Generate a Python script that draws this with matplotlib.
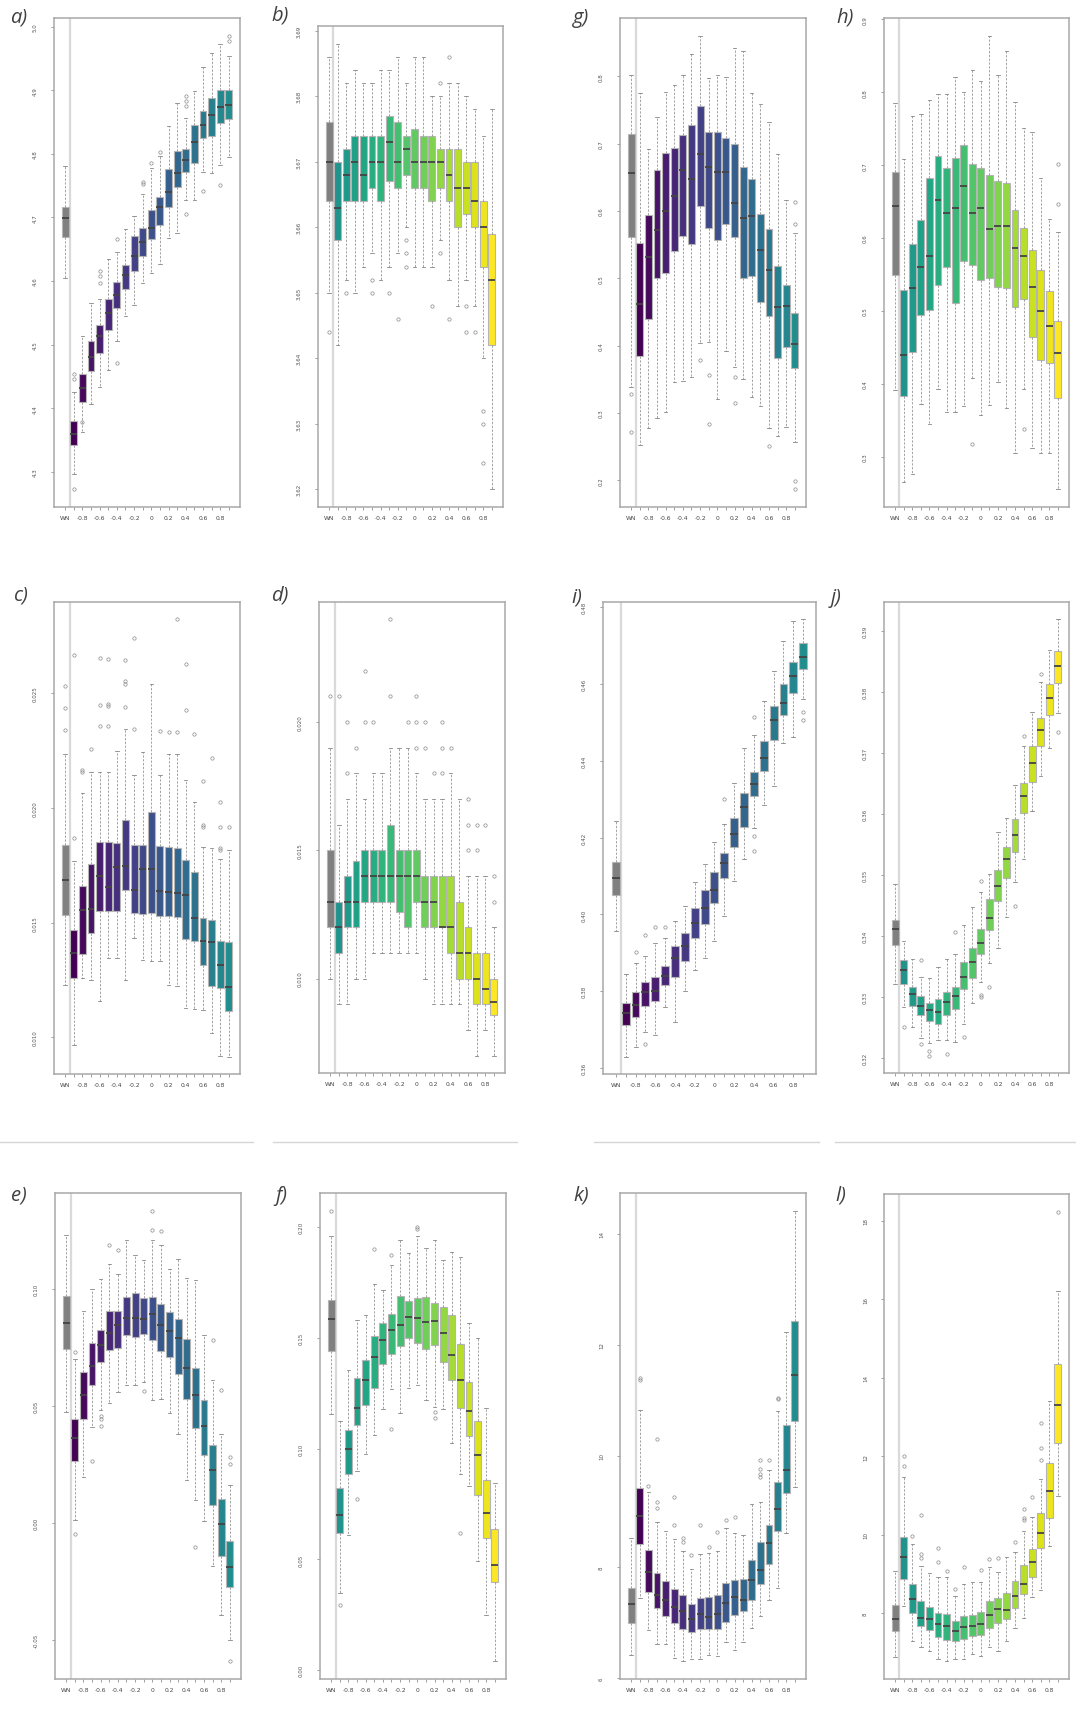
import numpy as np
import matplotlib
matplotlib.use("Agg")
import matplotlib.pyplot as plt
from matplotlib.lines import Line2D

# groups: WN, then correlation -0.9 ... 0.9
x_labels = ["WN", "", "-0.8", "", "-0.6", "", "-0.4", "", "-0.2", "", "0",
            "", "0.2", "", "0.4", "", "0.6", "", "0.8", ""]

# each row: (lower whisker, q1, median, q3, upper whisker)
a_stats = [(4.604, 4.669, 4.699, 4.717, 4.781), (4.297, 4.342, 4.359, 4.380, 4.425),
           (4.362, 4.409, 4.432, 4.453, 4.513), (4.406, 4.459, 4.481, 4.505, 4.565),
           (4.434, 4.487, 4.513, 4.530, 4.572), (4.460, 4.523, 4.549, 4.571, 4.635),
           (4.506, 4.557, 4.578, 4.599, 4.646), (4.545, 4.587, 4.609, 4.625, 4.681),
           (4.562, 4.616, 4.639, 4.670, 4.702), (4.596, 4.640, 4.662, 4.683, 4.737),
           (4.612, 4.666, 4.684, 4.711, 4.777), (4.626, 4.688, 4.716, 4.732, 4.797),
           (4.667, 4.717, 4.740, 4.776, 4.843), (4.675, 4.747, 4.769, 4.805, 4.880),
           (4.727, 4.772, 4.790, 4.808, 4.857), (4.727, 4.786, 4.818, 4.845, 4.899),
           (4.772, 4.824, 4.846, 4.868, 4.936), (4.769, 4.828, 4.861, 4.887, 4.959),
           (4.782, 4.848, 4.874, 4.900, 4.973), (4.795, 4.854, 4.876, 4.900, 4.954)]
a_out = [[], [4.453, 4.446, 4.273], [4.378], [], [4.616, 4.608, 4.597], [], [4.666, 4.471], [], [],
         [4.755, 4.752], [4.785], [4.803], [], [], [4.891, 4.883, 4.875, 4.705], [], [4.742], [],
         [4.751], [4.985, 4.977]]

b_stats = [(3.650, 3.664, 3.670, 3.676, 3.686), (3.642, 3.658, 3.663, 3.670, 3.688),
           (3.652, 3.664, 3.668, 3.672, 3.682), (3.650, 3.664, 3.670, 3.674, 3.684),
           (3.654, 3.664, 3.668, 3.674, 3.682), (3.656, 3.666, 3.670, 3.674, 3.682),
           (3.652, 3.664, 3.670, 3.674, 3.684), (3.654, 3.667, 3.673, 3.677, 3.684),
           (3.656, 3.666, 3.670, 3.676, 3.686), (3.660, 3.668, 3.672, 3.674, 3.682),
           (3.654, 3.666, 3.670, 3.675, 3.686), (3.654, 3.666, 3.670, 3.674, 3.686),
           (3.654, 3.664, 3.670, 3.674, 3.680), (3.658, 3.666, 3.670, 3.672, 3.680),
           (3.652, 3.664, 3.668, 3.672, 3.682), (3.648, 3.660, 3.666, 3.672, 3.682),
           (3.652, 3.662, 3.666, 3.670, 3.680), (3.648, 3.660, 3.664, 3.670, 3.678),
           (3.640, 3.654, 3.660, 3.664, 3.674), (3.620, 3.642, 3.652, 3.659, 3.678)]
b_out = [[3.644], [], [3.650], [], [], [3.652, 3.650], [], [3.650], [3.646], [3.658, 3.656, 3.654],
         [], [], [3.648], [3.682, 3.656], [3.686, 3.646], [], [3.648, 3.644], [3.644],
         [3.632, 3.630, 3.624], []]

c_stats = [(0.01229, 0.01533, 0.01687, 0.01836, 0.02236), (0.00968, 0.01261, 0.01367, 0.01469, 0.01767),
           (0.01261, 0.01363, 0.01553, 0.01658, 0.02064), (0.01251, 0.01457, 0.01559, 0.01755, 0.02156),
           (0.01160, 0.01552, 0.01701, 0.01849, 0.02154), (0.01345, 0.01552, 0.01655, 0.01851, 0.02154),
           (0.01345, 0.01549, 0.01742, 0.01847, 0.02246), (0.01251, 0.01640, 0.01748, 0.01945, 0.02345),
           (0.01433, 0.01544, 0.01643, 0.01839, 0.02141), (0.01338, 0.01539, 0.01733, 0.01839, 0.02242),
           (0.01335, 0.01544, 0.01735, 0.01982, 0.02539), (0.01331, 0.01531, 0.01639, 0.01832, 0.02141),
           (0.01229, 0.01527, 0.01632, 0.01829, 0.02234), (0.01226, 0.01523, 0.01629, 0.01825, 0.02236),
           (0.01128, 0.01428, 0.01621, 0.01774, 0.02122), (0.01123, 0.01421, 0.01520, 0.01720, 0.02025),
           (0.01118, 0.01316, 0.01418, 0.01520, 0.01828), (0.01019, 0.01222, 0.01414, 0.01512, 0.01825),
           (0.00921, 0.01215, 0.01314, 0.01418, 0.01777), (0.00917, 0.01116, 0.01219, 0.01414, 0.01817)]
c_out = [[0.02532, 0.02435, 0.02337], [0.02667, 0.01868], [0.02166, 0.02154], [0.02257],
         [0.02652, 0.02449, 0.02355], [0.02648, 0.02452, 0.02445, 0.02355], [],
         [0.02642, 0.02551, 0.02541, 0.02439], [0.02740, 0.02343], [], [], [0.02333], [0.02330],
         [0.02820, 0.02329], [0.02626, 0.02427], [0.02321], [0.02118, 0.01923, 0.01916], [0.02217],
         [0.02024, 0.01916, 0.01825, 0.01815], [0.01916]]

d_stats = [(0.010, 0.012, 0.013, 0.015, 0.019), (0.009, 0.011, 0.012, 0.013, 0.016),
           (0.009, 0.012, 0.013, 0.014, 0.017), (0.010, 0.012, 0.013, 0.0146, 0.018),
           (0.010, 0.013, 0.014, 0.015, 0.017), (0.011, 0.013, 0.014, 0.015, 0.018),
           (0.011, 0.013, 0.014, 0.015, 0.018), (0.011, 0.013, 0.014, 0.016, 0.019),
           (0.011, 0.0126, 0.014, 0.015, 0.019), (0.011, 0.012, 0.014, 0.015, 0.019),
           (0.011, 0.013, 0.014, 0.015, 0.018), (0.010, 0.012, 0.013, 0.014, 0.017),
           (0.009, 0.012, 0.013, 0.014, 0.017), (0.009, 0.012, 0.012, 0.014, 0.017),
           (0.009, 0.011, 0.012, 0.014, 0.018), (0.009, 0.010, 0.011, 0.013, 0.017),
           (0.008, 0.010, 0.011, 0.012, 0.014), (0.007, 0.009, 0.010, 0.011, 0.014),
           (0.008, 0.009, 0.0096, 0.011, 0.014), (0.007, 0.0086, 0.0091, 0.010, 0.012)]
d_out = [[0.021], [0.021], [0.020, 0.018], [0.019], [0.022, 0.020], [0.020], [], [0.024, 0.021], [],
         [0.020], [0.021, 0.020, 0.019], [0.020, 0.019], [0.018], [0.020, 0.019, 0.018], [0.019], [],
         [0.017, 0.016, 0.015], [0.016, 0.015], [0.016], [0.014, 0.013]]

e_stats = [(0.0475, 0.0743, 0.0856, 0.0971, 0.1231), (0.0011, 0.0265, 0.0365, 0.0446, 0.0703),
           (0.0196, 0.0446, 0.0549, 0.0646, 0.0906), (0.0411, 0.0589, 0.0672, 0.0772, 0.1003),
           (0.0482, 0.0689, 0.0760, 0.0827, 0.1043), (0.0515, 0.0742, 0.0813, 0.0906, 0.1110),
           (0.0560, 0.0750, 0.0846, 0.0906, 0.1067), (0.0589, 0.0806, 0.0879, 0.0967, 0.1213),
           (0.0589, 0.0796, 0.0879, 0.0986, 0.1148), (0.0603, 0.0810, 0.0874, 0.0963, 0.1124),
           (0.0525, 0.0783, 0.0896, 0.0967, 0.1210), (0.0532, 0.0736, 0.0849, 0.0939, 0.1188),
           (0.0470, 0.0710, 0.0822, 0.0903, 0.1088), (0.0382, 0.0636, 0.0793, 0.0874, 0.1131),
           (0.0185, 0.0532, 0.0665, 0.0786, 0.1049), (0.0097, 0.0406, 0.0546, 0.0665, 0.1039),
           (0.0008, 0.0292, 0.0413, 0.0525, 0.0806), (-0.0186, 0.0078, 0.0225, 0.0332, 0.0610),
           (-0.0396, -0.0142, -0.0006, 0.0101, 0.0382), (-0.0500, -0.0275, -0.0189, -0.0078, 0.0164)]
e_out = [[], [0.0732, -0.0049], [], [0.0265], [0.0458, 0.0446, 0.0415], [0.1191], [0.1170], [], [],
         [0.0565], [0.1335, 0.1255], [0.1248], [], [], [], [-0.0103], [], [0.0784], [0.0570],
         [0.0282, 0.0254, -0.0591]]

f_stats = [(0.1158, 0.1439, 0.1586, 0.1669, 0.1959), (0.0349, 0.0621, 0.0699, 0.0823, 0.1123),
           (0.0609, 0.0887, 0.0997, 0.1083, 0.1353), (0.0899, 0.1105, 0.1183, 0.1320, 0.1579),
           (0.0974, 0.1198, 0.1308, 0.1401, 0.1605), (0.1063, 0.1274, 0.1414, 0.1508, 0.1744),
           (0.1177, 0.1383, 0.1489, 0.1567, 0.1717), (0.1271, 0.1429, 0.1534, 0.1606, 0.1827),
           (0.1161, 0.1463, 0.1559, 0.1689, 0.1940), (0.1275, 0.1501, 0.1594, 0.1665, 0.1884),
           (0.1286, 0.1477, 0.1591, 0.1680, 0.1959), (0.1221, 0.1451, 0.1571, 0.1684, 0.1907),
           (0.1188, 0.1469, 0.1576, 0.1659, 0.1940), (0.1177, 0.1391, 0.1522, 0.1639, 0.1850),
           (0.1026, 0.1308, 0.1424, 0.1601, 0.1887), (0.0884, 0.1183, 0.1308, 0.1474, 0.1865),
           (0.0830, 0.1056, 0.1170, 0.1301, 0.1568), (0.0492, 0.0789, 0.0973, 0.1124, 0.1500),
           (0.0251, 0.0598, 0.0710, 0.0857, 0.1183), (0.0042, 0.0398, 0.0474, 0.0636, 0.0845)]
f_out = [[0.2072], [0.0293], [], [0.0771], [], [0.1899], [], [0.1875, 0.1090], [], [],
         [0.2000, 0.1990], [], [0.1165, 0.1138], [], [], [0.0620], [], [], [], []]

g_stats = [(0.339, 0.562, 0.657, 0.714, 0.802), (0.252, 0.384, 0.462, 0.552, 0.775),
           (0.278, 0.440, 0.532, 0.594, 0.692), (0.292, 0.500, 0.572, 0.661, 0.740),
           (0.302, 0.508, 0.600, 0.687, 0.777), (0.346, 0.540, 0.623, 0.693, 0.787),
           (0.348, 0.563, 0.661, 0.713, 0.802), (0.353, 0.551, 0.647, 0.728, 0.834),
           (0.404, 0.608, 0.685, 0.756, 0.860), (0.406, 0.575, 0.666, 0.718, 0.798),
           (0.320, 0.557, 0.658, 0.717, 0.802), (0.392, 0.580, 0.658, 0.709, 0.799),
           (0.368, 0.562, 0.612, 0.700, 0.842), (0.350, 0.501, 0.590, 0.666, 0.838),
           (0.323, 0.503, 0.593, 0.648, 0.775), (0.310, 0.465, 0.542, 0.596, 0.759),
           (0.277, 0.444, 0.513, 0.573, 0.733), (0.265, 0.381, 0.458, 0.519, 0.685),
           (0.279, 0.398, 0.459, 0.490, 0.617), (0.257, 0.367, 0.403, 0.449, 0.567)]
g_out = [[0.328, 0.271], [], [], [], [], [], [], [], [0.379], [0.357, 0.283], [], [],
         [0.353, 0.314], [], [], [], [0.251], [], [], [0.613, 0.580, 0.199, 0.187]]

h_stats = [(0.391, 0.549, 0.644, 0.690, 0.785), (0.266, 0.384, 0.440, 0.529, 0.709),
           (0.277, 0.444, 0.531, 0.592, 0.767), (0.372, 0.495, 0.560, 0.625, 0.770),
           (0.345, 0.501, 0.576, 0.683, 0.790), (0.393, 0.535, 0.652, 0.713, 0.798),
           (0.361, 0.560, 0.634, 0.696, 0.798), (0.361, 0.511, 0.641, 0.710, 0.821),
           (0.370, 0.569, 0.672, 0.727, 0.800), (0.408, 0.563, 0.635, 0.702, 0.830),
           (0.358, 0.543, 0.641, 0.696, 0.816), (0.371, 0.545, 0.613, 0.687, 0.877),
           (0.402, 0.533, 0.616, 0.678, 0.824), (0.367, 0.531, 0.617, 0.676, 0.857),
           (0.305, 0.505, 0.586, 0.639, 0.786), (0.393, 0.516, 0.575, 0.614, 0.751),
           (0.312, 0.465, 0.533, 0.583, 0.745), (0.305, 0.433, 0.500, 0.556, 0.683),
           (0.305, 0.429, 0.480, 0.528, 0.626), (0.256, 0.381, 0.443, 0.486, 0.609)]
h_out = [[], [], [], [], [], [], [], [], [], [0.317], [], [], [], [], [], [0.338], [], [], [],
         [0.701, 0.647]]

i_stats = [(0.3958, 0.4051, 0.4094, 0.4137, 0.4244), (0.3630, 0.3712, 0.3743, 0.3769, 0.3845),
           (0.3656, 0.3734, 0.3765, 0.3797, 0.3873), (0.3695, 0.3761, 0.3797, 0.3823, 0.3891),
           (0.3687, 0.3775, 0.3801, 0.3838, 0.3926), (0.3758, 0.3816, 0.3840, 0.3867, 0.3938),
           (0.3719, 0.3838, 0.3886, 0.3919, 0.3984), (0.3800, 0.3878, 0.3919, 0.3951, 0.4021),
           (0.3855, 0.3939, 0.3978, 0.4017, 0.4085), (0.3886, 0.3975, 0.4018, 0.4064, 0.4131),
           (0.3930, 0.4031, 0.4064, 0.4111, 0.4188), (0.3997, 0.4094, 0.4133, 0.4159, 0.4236),
           (0.4088, 0.4175, 0.4209, 0.4250, 0.4342), (0.4144, 0.4227, 0.4281, 0.4315, 0.4434),
           (0.4224, 0.4309, 0.4340, 0.4372, 0.4468), (0.4285, 0.4373, 0.4407, 0.4451, 0.4555),
           (0.4335, 0.4454, 0.4506, 0.4544, 0.4633), (0.4446, 0.4520, 0.4550, 0.4600, 0.4711),
           (0.4461, 0.4577, 0.4622, 0.4657, 0.4765), (0.4561, 0.4638, 0.4670, 0.4706, 0.4768)]
i_out = [[], [], [0.3901], [0.3946, 0.3662], [0.3966], [0.3966], [], [], [], [], [], [0.4301], [],
         [], [0.4513, 0.4205, 0.4164], [], [], [], [], [0.4526, 0.4506]]

j_stats = [(0.3321, 0.3385, 0.3411, 0.3426, 0.3486), (0.3283, 0.3322, 0.3344, 0.3360, 0.3392),
           (0.3250, 0.3285, 0.3305, 0.3316, 0.3362), (0.3232, 0.3271, 0.3286, 0.3302, 0.3333),
           (0.3224, 0.3260, 0.3278, 0.3290, 0.3331), (0.3230, 0.3256, 0.3276, 0.3296, 0.3349),
           (0.3229, 0.3271, 0.3291, 0.3309, 0.3363), (0.3227, 0.3280, 0.3302, 0.3317, 0.3370),
           (0.3255, 0.3313, 0.3333, 0.3358, 0.3418), (0.3290, 0.3331, 0.3358, 0.3380, 0.3448),
           (0.3325, 0.3370, 0.3388, 0.3411, 0.3472), (0.3355, 0.3410, 0.3430, 0.3460, 0.3502),
           (0.3381, 0.3457, 0.3482, 0.3508, 0.3570), (0.3431, 0.3495, 0.3526, 0.3546, 0.3594),
           (0.3489, 0.3538, 0.3566, 0.3592, 0.3648), (0.3526, 0.3601, 0.3629, 0.3651, 0.3712),
           (0.3605, 0.3653, 0.3683, 0.3712, 0.3768), (0.3662, 0.3712, 0.3738, 0.3758, 0.3817),
           (0.3709, 0.3762, 0.3791, 0.3813, 0.3869), (0.3765, 0.3814, 0.3843, 0.3867, 0.3919)]
j_out = [[], [0.3250], [], [0.3360, 0.3223], [0.3211, 0.3204], [], [0.3207], [0.3406], [0.3234], [],
         [0.3490, 0.3303, 0.3300], [0.3317], [], [], [0.3449], [0.3728], [], [0.3830], [], [0.3734]]

k_stats = [(6.41, 6.99, 7.34, 7.62, 8.53), (7.44, 8.41, 8.92, 9.42, 10.83),
           (6.87, 7.56, 7.91, 8.30, 9.36), (6.62, 7.26, 7.49, 7.90, 8.82),
           (6.62, 7.12, 7.40, 7.75, 8.65), (6.37, 6.99, 7.29, 7.61, 8.50),
           (6.31, 6.88, 7.21, 7.50, 8.29), (6.34, 6.84, 7.06, 7.34, 7.96),
           (6.35, 6.89, 7.16, 7.44, 8.23), (6.41, 6.89, 7.10, 7.47, 8.26),
           (6.40, 6.89, 7.15, 7.49, 8.29), (6.65, 7.02, 7.36, 7.71, 8.70),
           (6.50, 7.13, 7.47, 7.77, 8.61), (6.65, 7.21, 7.40, 7.79, 8.57),
           (6.90, 7.41, 7.77, 8.13, 9.14), (7.12, 7.69, 7.94, 8.45, 9.17),
           (7.41, 8.05, 8.43, 8.76, 9.75), (7.62, 8.65, 9.05, 9.54, 10.81),
           (8.62, 9.34, 9.75, 10.56, 12.24), (9.45, 10.63, 11.46, 12.43, 14.41)]
k_out = [[], [11.40, 11.37], [9.46], [10.31, 9.17, 9.06], [], [9.26, 8.76], [8.52, 8.46], [8.21],
         [8.75], [8.37], [8.63], [8.85], [8.90], [], [], [9.92, 9.77, 9.68, 9.62], [9.92],
         [11.05, 11.02], [], []]

l_stats = [(6.90, 7.56, 7.86, 8.21, 9.08), (8.19, 8.89, 9.43, 9.94, 11.48),
           (7.29, 8.02, 8.37, 8.76, 9.78), (7.15, 7.68, 7.89, 8.31, 9.21),
           (7.04, 7.58, 7.86, 8.17, 9.04), (6.83, 7.41, 7.72, 8.02, 8.92),
           (6.79, 7.32, 7.69, 7.98, 8.92), (6.85, 7.30, 7.55, 7.81, 8.45),
           (6.83, 7.35, 7.66, 7.93, 8.76), (6.96, 7.42, 7.68, 7.96, 8.79),
           (6.92, 7.46, 7.72, 8.03, 8.81), (7.15, 7.64, 7.97, 8.31, 9.19),
           (7.05, 7.76, 8.11, 8.40, 9.06), (7.30, 7.87, 8.08, 8.51, 9.43),
           (7.64, 8.13, 8.45, 8.82, 9.57), (7.89, 8.49, 8.74, 9.23, 10.11),
           (8.42, 8.92, 9.32, 9.63, 10.46), (8.61, 9.67, 10.06, 10.55, 11.42),
           (9.72, 10.42, 11.13, 11.82, 13.40), (10.99, 12.35, 13.31, 14.36, 16.22)]
l_out = [[], [12.01, 11.76], [9.97], [10.51, 9.51, 9.40], [], [9.67, 9.32], [9.08], [8.62], [9.19],
         [], [9.10], [9.39], [9.40], [], [9.83], [10.65, 10.42, 10.38], [10.97],
         [12.84, 12.22, 11.91], [], [18.22]]

a_ticks = [4.3, 4.4, 4.5, 4.6, 4.7, 4.8, 4.9, 5.0]
b_ticks = [3.62, 3.63, 3.64, 3.65, 3.66, 3.67, 3.68, 3.69]
c_ticks = [0.010, 0.015, 0.020, 0.025]
d_ticks = [0.010, 0.015, 0.020]
e_ticks = [-0.05, 0.00, 0.05, 0.10]
f_ticks = [0.00, 0.05, 0.10, 0.15, 0.20]
g_ticks = [0.2, 0.3, 0.4, 0.5, 0.6, 0.7, 0.8]
h_ticks = [0.3, 0.4, 0.5, 0.6, 0.7, 0.8, 0.9]
i_ticks = [0.36, 0.38, 0.40, 0.42, 0.44, 0.46, 0.48]
j_ticks = [0.32, 0.33, 0.34, 0.35, 0.36, 0.37, 0.38, 0.39]
k_ticks = [6, 8, 10, 12, 14]
l_ticks = [8, 10, 12, 14, 16, 18]

W, H = 1076, 1724
fig = plt.figure(figsize=(W / 100, H / 100), dpi=100)
fig.patch.set_facecolor("white")

viridis = plt.cm.viridis(np.linspace(0, 1, 38))


def draw(name, stats, outs, ticks, fmt, half, rect, lab_xy):
    l, r, t, b = rect
    ax = fig.add_axes([l / W, 1 - b / H, (r - l) / W, (b - t) / H])
    cols = ["#808080"] + list(viridis[:19] if half == 0 else viridis[19:])
    bstats = [dict(whislo=s[0], q1=s[1], med=s[2], q3=s[3], whishi=s[4], fliers=o)
              for s, o in zip(stats, outs)]
    pos = np.arange(1, 21)
    ax.axvline(1.5, color="#d9d9d9", lw=1.6, zorder=0)
    bp = ax.bxp(bstats, positions=pos, widths=0.8, patch_artist=True, capwidths=0.4,
                boxprops=dict(edgecolor="#b5b5b5", linewidth=0.8),
                medianprops=dict(color="#444444", linewidth=1.3),
                whiskerprops=dict(color="#8a8a8a", linestyle=(0, (3, 2)), linewidth=0.55),
                capprops=dict(color="#7a7a7a", linewidth=0.55),
                flierprops=dict(marker="o", markersize=2.4, markerfacecolor="none",
                                markeredgecolor="#8a8a8a", markeredgewidth=0.5))
    for p, c in zip(bp["boxes"], cols):
        p.set_facecolor(c)
    vals = [v for s in stats for v in s] + [v for o in outs for v in o]
    lo, hi = min(vals), max(vals)
    ext = (hi - lo) * 0.04
    ax.set_ylim(lo - ext, hi + ext)
    ax.set_xlim(-0.3, 21.3)
    ax.set_xticks(pos)
    ax.set_xticklabels(x_labels, fontsize=4.3, color="#444444")
    ax.set_yticks(ticks)
    ax.set_yticklabels([fmt % v for v in ticks], fontsize=4, color="#555555",
                       rotation=90, va="center")
    ax.tick_params(axis="x", length=2.5, width=0.5, color="#777777", pad=3)
    ax.tick_params(axis="y", length=2.5, width=0.5, color="#777777", pad=9)
    for sp in ax.spines.values():
        sp.set_color("#a8a8a8")
        sp.set_linewidth(1.1)
    fig.text(lab_xy[0] / W, 1 - lab_xy[1] / H, name, fontsize=14.5, fontstyle="italic",
             family=["Open Sans", "DejaVu Sans"], color="#404040", ha="left", va="center")


draw("a)", a_stats, a_out, a_ticks, "%.1f", 0, (54, 240, 19, 508), (10, 17))
draw("b)", b_stats, b_out, b_ticks, "%.2f", 1, (318, 503, 27, 508), (271, 16))
draw("g)", g_stats, g_out, g_ticks, "%.1f", 0, (620, 806, 19, 508), (573, 18))
draw("h)", h_stats, h_out, h_ticks, "%.1f", 1, (884, 1069, 19, 508), (836, 18))
draw("c)", c_stats, c_out, c_ticks, "%.3f", 0, (54, 240, 603, 1075), (13, 596))
draw("d)", d_stats, d_out, d_ticks, "%.3f", 1, (319, 505, 603, 1074), (271, 596))
draw("i)", i_stats, i_out, i_ticks, "%.2f", 0, (603, 816, 603, 1075), (571, 598))
draw("j)", j_stats, j_out, j_ticks, "%.2f", 1, (884, 1069, 603, 1074), (831, 598))
draw("e)", e_stats, e_out, e_ticks, "%.2f", 0, (55, 241, 1194, 1680), (11, 1196))
draw("f)", f_stats, f_out, f_ticks, "%.2f", 1, (320, 506, 1194, 1680), (275, 1196))
draw("k)", k_stats, k_out, k_ticks, "%d", 0, (620, 806, 1194, 1680), (573, 1196))
draw("l)", l_stats, l_out, l_ticks, "%d", 1, (884, 1069, 1195, 1680), (835, 1196))

# faint separators under the middle row
for x0, x1 in [(0, 253), (273, 517), (594, 819), (835, 1076)]:
    fig.add_artist(Line2D([x0 / W, x1 / W], [1 - 1143 / H, 1 - 1143 / H],
                          color="#d6d6d6", lw=1.0))

fig.savefig("out.png", dpi=100, facecolor="white")
